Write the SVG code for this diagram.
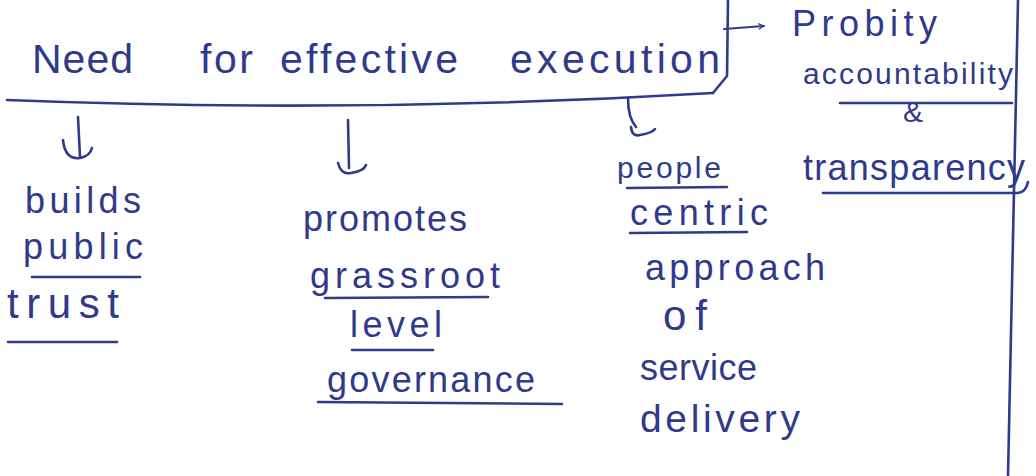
<svg xmlns="http://www.w3.org/2000/svg" width="1036" height="476" viewBox="0 0 1036 476">
<style>
text{font-family:"Liberation Sans","DejaVu Sans",sans-serif;fill:#2f3a8c;}
.t{font-size:41px;}
.w{font-size:36px;}
.s{font-size:30px;}
.ln{fill:none;stroke:#2f3a8c;stroke-width:2.6;stroke-linecap:round;stroke-linejoin:round;}
.ul{fill:none;stroke:#2f3a8c;stroke-width:2.6;stroke-linecap:round;}
</style>
<defs>
<marker id="ah" viewBox="0 0 10 10" refX="9" refY="5" markerWidth="7" markerHeight="7" orient="auto" markerUnits="userSpaceOnUse">
<path d="M1,1 L9,5 L1,9" fill="none" stroke="#2f3a8c" stroke-width="1.6"/>
</marker>
</defs>
<rect width="1036" height="476" fill="#ffffff"/>

<g id="connectors">
<path class="ln" d="M728,0 L727,76 L713,93"/>
<path class="ln" d="M7,100 Q360,114 713,93"/>
<path class="ln" d="M1018,0 L1008,476"/>
<path class="ln" d="M724,29 L764,26" marker-end="url(#ah)" style="stroke-width:2.2"/>
<path class="ln" d="M78,117 L80,157"/>
<path class="ln" d="M63,140 Q65,160 80,158 Q90,156 92,148"/>
<path class="ln" d="M348,120 L349,168"/>
<path class="ln" d="M338,163 Q341,175 351,173 Q364,171 366,165"/>
<path class="ln" d="M628,98 Q628,118 636,127"/>
<path class="ln" d="M631,127 Q632,137 640,135 Q652,133 655,129"/>
</g>

<g id="title">
<text class="t" y="73"><tspan x="32" textLength="101" lengthAdjust="spacing">Need</tspan><tspan x="200" textLength="53" lengthAdjust="spacing">for</tspan><tspan x="280" textLength="178" lengthAdjust="spacing">effective</tspan><tspan x="510" textLength="210" lengthAdjust="spacing">execution</tspan></text>
</g>

<g id="probity">
<text class="w" x="792" y="36" textLength="145" lengthAdjust="spacing">Probity</text>
<text class="s" x="803" y="84" textLength="210" lengthAdjust="spacing">accountability</text>
<path class="ul" d="M840,103 L1012,103"/>
<text class="s" x="903" y="122">&amp;</text>
<text class="w" x="803" y="180" textLength="222" lengthAdjust="spacing">transparency</text>
<path class="ul" d="M823,193 L1018,193 Q1026,192 1028,182"/>
</g>

<g id="trust">
<text class="w" x="25" y="213" textLength="116" lengthAdjust="spacing">builds</text>
<text class="w" x="23" y="259" textLength="120" lengthAdjust="spacing">public</text>
<path class="ul" d="M32,277 L140,277"/>
<text x="7" y="318" style="font-size:42px" textLength="112" lengthAdjust="spacing">trust</text>
<path class="ul" d="M8,342 L117,342"/>
</g>

<g id="grassroot">
<text class="w" x="303" y="231" textLength="164" lengthAdjust="spacing">promotes</text>
<text class="w" x="310" y="288" textLength="190" lengthAdjust="spacing">grassroot</text>
<path class="ul" d="M325,298 L488,297"/>
<text class="w" x="350" y="337" textLength="92" lengthAdjust="spacing">level</text>
<path class="ul" d="M352,350 L433,350"/>
<text class="w" x="327" y="392" textLength="208" lengthAdjust="spacing">governance</text>
<path class="ul" d="M318,402 L562,404"/>
</g>

<g id="people">
<text class="s" x="617" y="178" textLength="104" lengthAdjust="spacing">people</text>
<path class="ul" d="M627,188 L727,187"/>
<text class="w" x="630" y="225" textLength="138" lengthAdjust="spacing">centric</text>
<path class="ul" d="M630,233 L747,232"/>
<text class="w" x="645" y="280" textLength="180" lengthAdjust="spacing">approach</text>
<text x="663" y="330" style="font-size:42px" textLength="44" lengthAdjust="spacing">of</text>
<text class="w" x="640" y="380" textLength="117" lengthAdjust="spacing">service</text>
<text x="640" y="432" style="font-size:39px" textLength="160" lengthAdjust="spacing">delivery</text>
</g>
</svg>
